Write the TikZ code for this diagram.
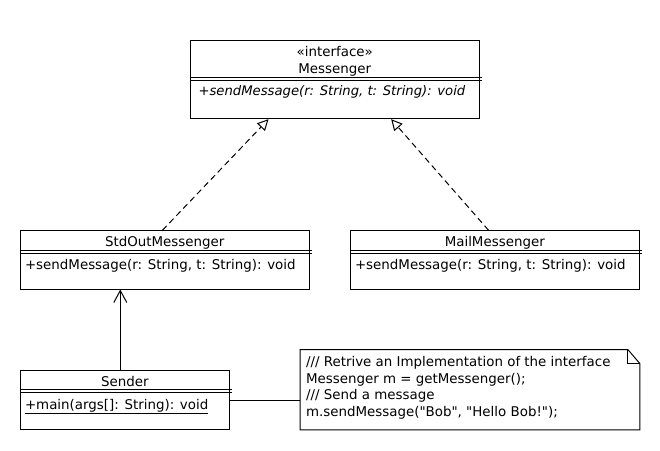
\documentclass[tikz,border=0pt]{standalone}
\usepackage{fontspec}
\setmainfont{DejaVu Sans}[Ligatures=TeXOff]
\usetikzlibrary{arrows.meta,calc}
\begin{document}
\begin{tikzpicture}[x=1pt,y=-1pt,line width=1pt,
  umlbox/.style={draw, rectangle, inner sep=0pt},
  hold/.style={rectangle, inner sep=0pt},
  lbl/.style={anchor=base, inner sep=0pt, font=\fontsize{13.4}{16}\selectfont},
  lblw/.style={lbl, anchor=base west},
  ilblw/.style={lblw, font=\fontsize{13.2}{16}\selectfont\itshape},
  realize/.style={dash pattern=on 6pt off 4pt, -{Triangle[open,length=11pt,width=11pt]}},
  assoc/.style={-{Straight Barb[length=12pt,width=13pt]}}]
\fill[white] (0,0) rectangle (660,450);
\useasboundingbox (0,0) rectangle (660,450);

% Messenger
\node[umlbox, minimum width=288.5pt, minimum height=78pt] (msg) at (334.75,79.7) {};
\draw ($(msg.north west)+(0,37)$) -- ($(msg.north east)+(2,37)$);
\draw ($(msg.north west)+(0,40)$) -- ($(msg.north east)+(2,40)$);
\node[lbl] (msgst) at (334.75,56.7) {«interface»};
\node[lbl] (msgnm) at (334.75,73.3) {Messenger};
\node[ilblw] (msgop) at (198,95.7) {+sendMessage(r: String, t: String): void};

% StdOutMessenger
\node[umlbox, minimum width=288.5pt, minimum height=58.3pt] (std) at (164.75,259.85) {};
\draw ($(std.north west)+(0,20.5)$) -- ($(std.north east)+(2,20.5)$);
\draw ($(std.north west)+(0,23)$) -- ($(std.north east)+(2,23)$);
\node[lbl] (stdnm) at (164.75,246.7) {StdOutMessenger};
\node[lblw] (stdop) at (24.5,269) {+sendMessage(r: String, t: String): void};

% MailMessenger
\node[umlbox, minimum width=288.5pt, minimum height=58.3pt] (mail) at (494.75,259.85) {};
\draw ($(mail.north west)+(0,20.5)$) -- ($(mail.north east)+(2,20.5)$);
\draw ($(mail.north west)+(0,23)$) -- ($(mail.north east)+(2,23)$);
\node[lbl] (mailnm) at (494.75,246.7) {MailMessenger};
\node[lblw] (mailop) at (354.5,269) {+sendMessage(r: String, t: String): void};

% Sender
\node[umlbox, minimum width=208.8pt, minimum height=59pt] (snd) at (124.9,399.5) {};
\draw ($(snd.north west)+(0,20)$) -- ($(snd.north east)+(2,20)$);
\draw ($(snd.north west)+(0,22.5)$) -- ($(snd.north east)+(2,22.5)$);
\node[lbl] (sndnm) at (124.9,386.7) {Sender};
\node[lblw] (sndop) at (24.5,409.3) {\underline{+main(args[]: String): void}};

% Note
\node[hold, minimum width=338.6pt, minimum height=79.3pt] (note) at (470,389.65) {};
\draw ($(note.north east)+(-12,0)$) -- (note.north west) -- (note.south west)
  -- (note.south east) -- ($(note.north east)+(0,14)$) -- cycle;
\draw ($(note.north east)+(-12,0)$) |- ($(note.north east)+(0,14)$);
\node[lblw] (n1) at (305.5,366.5) {/// Retrive an Implementation of the interface};
\node[lblw] (n2) at (305.5,383) {Messenger m = getMessenger();};
\node[lblw] (n3) at (305.5,399.5) {/// Send a message};
\node[lblw] (n4) at (305.5,416) {m.sendMessage("Bob", "Hello Bob!");};

% connectors
\coordinate (sa) at ($(snd.north)+(-4.6,0)$);
\coordinate (sb) at ($(snd.east)+(0,1.2)$);
\draw[realize] ($(std.north west)+(142.5,0)$) -- ($(msg.south west)+(78.5,0)$);
\draw[realize] ($(mail.north west)+(138.5,0)$) -- ($(msg.south west)+(201.2,0)$);
\draw[assoc] (sa) -- (sa |- std.south);
\draw (sb) -- (sb -| note.west);
\end{tikzpicture}
\end{document}
